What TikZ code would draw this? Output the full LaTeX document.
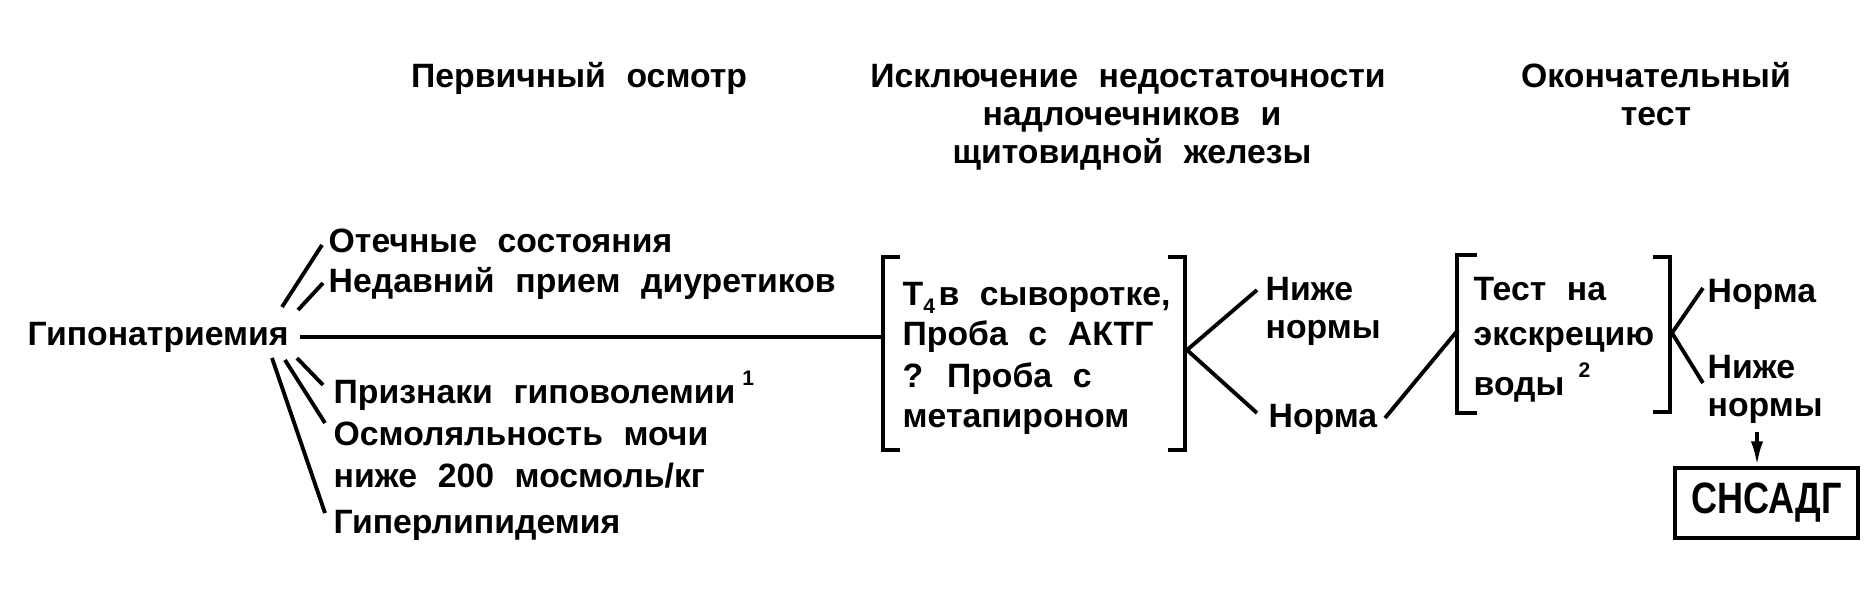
\documentclass[tikz,border=0pt]{standalone}
\usepackage{fontspec}
\setmainfont{Liberation Sans}[WordSpace=2.2]
\usepackage{graphicx}
\usetikzlibrary{arrows.meta}
\tikzset{
  txt/.style={inner sep=0pt, font=\fontsize{9.6}{11}\selectfont\bfseries},
  lt/.style={txt, anchor=base west},
  ct/.style={txt, anchor=base},
  lnk/.style={line width=1.1pt},
  brk/.style={line width=1.3pt},
  resbox/.style={draw, line width=1.2pt, inner sep=0pt, minimum width=1.83cm, minimum height=0.70cm, font=\bfseries}
}
\newcommand{\supnum}[1]{\raisebox{5pt}{\fontsize{6}{6}\selectfont #1}}
\begin{document}
\begin{tikzpicture}[x=0.01cm,y=-0.01cm]
\useasboundingbox (0,0) rectangle (1865,590);
% headers
\node[ct] (h1)  at (579,87)  {Первичный осмотр};
\node[ct] (h2a) at (1128,87) {Исключение недостаточности};
\node[ct] (h2b) at (1132,125) {надлочечников и};
\node[ct] (h2c) at (1132,163) {щитовидной железы};
\node[ct] (h3a) at (1656,87) {Окончательный};
\node[ct] (h3b) at (1656,125) {тест};
% left column
\node[lt] (gipo) at (27,345) {Гипонатриемия};
\node[lt] (ot)   at (328,252) {Отечные состояния};
\node[lt] (ned)  at (328,292) {Недавний прием диуретиков};
\node[lt] (pr)   at (333,403) {Признаки гиповолемии\hspace{2pt}\supnum{1}};
\node[lt] (osm)  at (333,445) {Осмоляльность мочи};
\node[lt] (niz)  at (333,487) {ниже 200 мосмоль/кг};
\node[lt] (gip)  at (333,533) {Гиперлипидемия};
% fan of lines from Гипонатриемия
\coordinate (u1a) at (282,307); \coordinate (u1b) at (322,245);
\coordinate (u2a) at (298,310); \coordinate (u2b) at (323,283);
\coordinate (d1a) at (297,358); \coordinate (d1b) at (323,385);
\coordinate (d2a) at (285,360); \coordinate (d2b) at (325,423);
\coordinate (d3a) at (272,358); \coordinate (d3b) at (325,513);
\draw[lnk] (u1a) -- (u1b);
\draw[lnk] (u2a) -- (u2b);
\draw[lnk] (d1a) -- (d1b);
\draw[lnk] (d2a) -- (d2b);
\draw[lnk] (d3a) -- (d3b);
\coordinate (hs) at (300,337);
\coordinate (b1L) at (883,337);
\draw[lnk] (hs) -- (b1L);
% bracket 1
\draw[brk] (900,257) -- (883,257) -- (883,450) -- (900,450);
\draw[brk] (1168,257) -- (1185,257) -- (1185,450) -- (1168,450);
\node[lt] (t1) at (902,305) {T\raisebox{-2.5pt}{\fontsize{6}{6}\selectfont 4}\hspace{1pt}в сыворотке,};
\node[lt] (t2) at (902,345) {Проба с АКТГ};
\node[lt] (t3) at (902,387) {? Проба с};
\node[lt] (t4) at (902,427) {метапироном};
% fork 1
\coordinate (f1) at (1187,350);
\node[lt] (nz1) at (1265,300) {Ниже};
\node[lt] (nr1) at (1265,338) {нормы};
\node[lt] (nm1) at (1268,427) {Норма};
\coordinate (f1u) at (1257,290);
\coordinate (f1d) at (1257,413);
\draw[lnk] (f1u) -- (f1) -- (f1d);
\coordinate (n1e) at (1385,418);
\coordinate (b2L) at (1458,330);
\draw[lnk] (n1e) -- (b2L);
% bracket 2
\draw[brk] (1477,255) -- (1457,255) -- (1457,413) -- (1477,413);
\draw[brk] (1653,257) -- (1670,257) -- (1670,412) -- (1653,412);
\node[lt] (w1) at (1473,300) {Тест на};
\node[lt] (w2) at (1473,345) {экскрецию};
\node[lt] (w3) at (1473,395) {воды\hspace{4pt}\supnum{2}};
% fork 2
\coordinate (f2) at (1672,333);
\coordinate (f2u) at (1703,288);
\coordinate (f2d) at (1703,383);
\draw[lnk] (f2u) -- (f2) -- (f2d);
\node[lt] (nm2) at (1707,302) {Норма};
\node[lt] (nz2) at (1707,378) {Ниже};
\node[lt] (nr2) at (1707,416) {нормы};
% result box
\node[resbox] (snsadg) at (1766.5,503) {\scalebox{0.82}[1]{\fontsize{12.5}{13}\selectfont СНСАДГ}};
\coordinate (ar) at (1757,432);
\draw[lnk,-{Latex[length=7pt,width=3.5pt]}] (ar) -- (ar |- snsadg.north);
\end{tikzpicture}
\end{document}
